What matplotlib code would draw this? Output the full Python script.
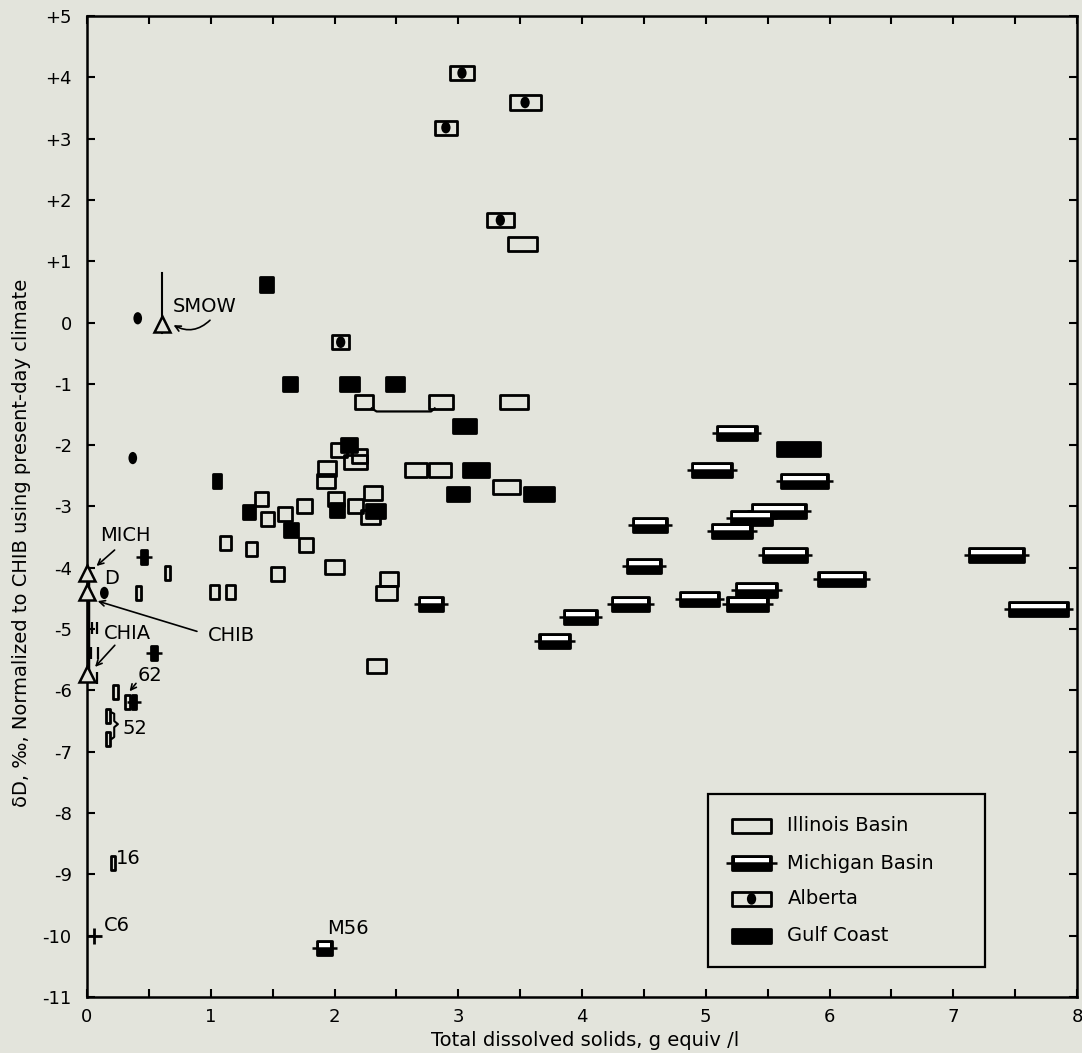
import matplotlib
matplotlib.use("Agg")
import matplotlib.pyplot as plt
from matplotlib.patches import Rectangle, Ellipse

# box centre x (g equiv/l), box width (range of x), delta D
ill_x = [3.52, 2.24, 2.86, 3.45, 2.66, 2.85, 3.39, 2.44, 2.42, 2.34, 1.03, 1.16,
         1.54, 2.00, 1.12, 1.33, 1.77, 1.41, 1.46, 1.60, 1.76, 2.01, 2.17, 2.31,
         2.29, 1.94, 1.93, 2.04, 2.17, 2.20, 0.65, 0.42, 0.23, 0.33, 0.17, 0.17, 0.21]
ill_w = [0.24, 0.15, 0.19, 0.23, 0.18, 0.18, 0.22, 0.15, 0.17, 0.16, 0.08, 0.08,
         0.11, 0.16, 0.09, 0.09, 0.11, 0.10, 0.10, 0.11, 0.12, 0.13, 0.12, 0.15,
         0.15, 0.14, 0.14, 0.13, 0.18, 0.12, 0.04, 0.04, 0.04, 0.04, 0.03, 0.03, 0.03]
ill_y = [1.28, -1.30, -1.30, -1.30, -2.40, -2.40, -2.68, -4.18, -4.41, -5.60, -4.40, -4.40,
         -4.10, -3.99, -3.60, -3.69, -3.63, -2.88, -3.21, -3.12, -2.99, -2.88, -2.99, -2.78,
         -3.17, -2.38, -2.59, -2.08, -2.28, -2.18, -4.09, -4.41, -6.03, -6.19, -6.42, -6.79, -8.82]

mich_x = [5.25, 5.05, 4.55, 4.50, 2.78, 3.99, 3.78, 4.39, 4.95, 5.34, 5.41, 5.21,
          5.37, 5.59, 5.64, 5.80, 6.10, 7.35, 7.69, 1.92, 0.46, 0.54, 0.38]
mich_w = [0.32, 0.32, 0.28, 0.28, 0.20, 0.27, 0.25, 0.30, 0.32, 0.33, 0.33, 0.32,
          0.33, 0.44, 0.36, 0.38, 0.38, 0.45, 0.48, 0.12, 0.05, 0.05, 0.04]
mich_y = [-1.80, -2.40, -3.30, -3.97, -4.59, -4.80, -5.19, -4.59, -4.51, -4.59, -4.36, -3.40,
          -3.19, -3.07, -3.79, -2.59, -4.18, -3.79, -4.67, -10.20, -3.83, -5.39, -6.19]

alb_x = [3.03, 3.54, 2.90, 3.34, 2.05, 0.41, 0.37, 0.14]
alb_w = [0.20, 0.25, 0.18, 0.22, 0.14, 0.0, 0.0, 0.0]
alb_y = [4.07, 3.59, 3.18, 1.67, -0.32, 0.07, -2.21, -4.41]

gulf_x = [1.45, 1.64, 2.12, 2.49, 3.05, 3.14, 3.00, 3.65, 5.75, 2.12, 1.31, 1.65,
          1.05, 2.02, 2.33]
gulf_w = [0.10, 0.12, 0.15, 0.15, 0.19, 0.21, 0.18, 0.24, 0.35, 0.13, 0.10, 0.11,
          0.07, 0.12, 0.15]
gulf_y = [0.62, -1.00, -1.00, -1.00, -1.68, -2.40, -2.79, -2.79, -2.06, -1.99, -3.09, -3.39,
          -2.58, -3.05, -3.08]

# single very dilute samples near the axis
tiny_x = [0.04, 0.08, 0.03, 0.09, 0.08]
tiny_y = [-4.98, -4.98, -5.39, -5.39, -5.80]
c6 = (0.06, -10.0)

# reference waters
std_names = ["SMOW", "MICH", "CHIB", "CHIA"]
std_x = [0.61, 0.0, 0.0, 0.0]
std_y = [-0.02, -4.09, -4.40, -5.73]

yticks = list(range(-11, 6))
yticklabels = ["-11", "-10", "-9", "-8", "-7", "-6", "-5", "-4", "-3", "-2", "-1",
               "0", "+1", "+2", "+3", "+4", "+5"]
legend_names = ["Illinois Basin", "Michigan Basin", "Alberta", "Gulf Coast"]

BG = "#e3e4dc"
H = 0.23
LW = 2.0


def open_box(ax, x, w, y, z=3):
    ax.add_patch(Rectangle((x - w / 2, y - H / 2), w, H, fc="none", ec="black",
                           lw=LW, joinstyle="round", zorder=z))


def filled_box(ax, x, w, y, z=3):
    ax.add_patch(Rectangle((x - w / 2, y - H / 2), w, H, fc="black", ec="black",
                           lw=LW, joinstyle="round", zorder=z))


def mich_box(ax, x, w, y, ext=0.04, z=4):
    ax.add_patch(Rectangle((x - w / 2, y - H / 2), w, H, fc="black", ec="black",
                           lw=LW, joinstyle="round", zorder=z))
    if w > 0.07:
        ax.add_patch(Rectangle((x - w / 2 + 0.018, y - 0.005), w - 0.036, H / 2 - 0.028,
                               fc="white", ec="none", zorder=z + 0.5))
    ax.plot([x - w / 2 - ext, x + w / 2 + ext], [y, y], color="black", lw=1.8,
            solid_capstyle="butt", zorder=z + 1)


def alberta_box(ax, x, w, y, z=3):
    if w > 0:
        ax.add_patch(Rectangle((x - w / 2, y - H / 2), w, H, fc="none", ec="black",
                               lw=LW, joinstyle="round", zorder=z))
        ax.add_patch(Ellipse((x, y), 0.075, 0.19, fc="black", ec="none", zorder=z + 1))
    else:
        ax.add_patch(Ellipse((x, y), 0.07, 0.2, fc="black", ec="none", zorder=z + 1))


plt.rcParams["font.family"] = ["DejaVu Sans"]

fig = plt.figure(figsize=(10.82, 10.53), dpi=100, facecolor=BG)
ax = fig.add_axes([0.0804, 0.0532, 0.915, 0.9316], facecolor=BG)

for x, w, y in zip(ill_x, ill_w, ill_y):
    open_box(ax, x, w, y)
for x, w, y in zip(gulf_x, gulf_w, gulf_y):
    filled_box(ax, x, w, y)
for x, w, y in zip(alb_x, alb_w, alb_y):
    alberta_box(ax, x, w, y)
for x, w, y in zip(mich_x, mich_w, mich_y):
    mich_box(ax, x, w, y)

ax.plot(tiny_x, tiny_y, ls="none", marker="|", ms=9, mew=1.6, color="black")
ax.plot(*c6, marker="+", ms=11, mew=2, color="black")

# bracket joining the two duplicate Illinois analyses near -1.3
ax.plot([2.30, 2.34, 2.78, 2.81], [-1.40, -1.45, -1.45, -1.40], color="black", lw=1.6)
# bracket for sample 52
ax.plot([0.20, 0.22, 0.22, 0.25, 0.22, 0.22, 0.20],
        [-6.36, -6.38, -6.5, -6.55, -6.6, -6.76, -6.79], color="black", lw=1.5)

# standards
ax.plot([0.61, 0.61], [0.81, -0.17], color="black", lw=1.5)
ax.plot([0.005, 0.005], [-4.09, -5.73], color="black", lw=2.5, clip_on=False)
ax.plot(std_x, std_y, ls="none", marker="^", ms=12, mfc=BG, mec="black", mew=1.8,
        clip_on=False, zorder=6)

fs = 14
ax.text(0.69, 0.26, std_names[0], fontsize=fs, va="center", ha="left")
ax.annotate("", xy=(0.68, -0.02), xytext=(1.01, 0.07),
            arrowprops=dict(arrowstyle="->", lw=1.2, connectionstyle="arc3,rad=-0.4"))
ax.text(0.31, -3.48, std_names[1], fontsize=fs, va="center", ha="center")
ax.annotate("", xy=(0.06, -4.0), xytext=(0.24, -3.68),
            arrowprops=dict(arrowstyle="->", lw=1.2))
ax.text(1.17, -5.10, std_names[2], fontsize=fs, va="center", ha="center")
ax.annotate("", xy=(0.065, -4.53), xytext=(0.91, -5.05),
            arrowprops=dict(arrowstyle="->", lw=1.2))
ax.text(0.33, -5.07, std_names[3], fontsize=fs, va="center", ha="center")
ax.annotate("", xy=(0.05, -5.65), xytext=(0.24, -5.23),
            arrowprops=dict(arrowstyle="->", lw=1.2))

ax.text(0.20, -4.18, "D", fontsize=fs, va="center", ha="center")
ax.text(0.51, -5.75, "62", fontsize=fs, va="center", ha="center")
ax.annotate("", xy=(0.33, -6.05), xytext=(0.41, -5.85),
            arrowprops=dict(arrowstyle="->", lw=1.2))
ax.text(0.39, -6.62, "52", fontsize=fs, va="center", ha="center")
ax.text(0.33, -8.74, "16", fontsize=fs, va="center", ha="center")
ax.text(0.24, -9.83, "C6", fontsize=fs, va="center", ha="center")
ax.text(2.11, -9.88, "M56", fontsize=fs, va="center", ha="center")

# legend drawn with the same symbols
ax.add_patch(Rectangle((5.02, -10.51), 2.24, 2.82, fc=BG, ec="black", lw=1.6, zorder=10))
leg_y = [-8.21, -8.82, -9.40, -10.0]
leg_draw = [open_box, mich_box, alberta_box, filled_box]
for name, yy, fn in zip(legend_names, leg_y, leg_draw):
    if fn is mich_box:
        fn(ax, 5.37, 0.31, yy, ext=0.05, z=11)
    else:
        fn(ax, 5.37, 0.31, yy, z=11)
    ax.text(5.66, yy, name, fontsize=fs, va="center", ha="left", zorder=12)

ax.set_xlim(0, 8)
ax.set_ylim(-11, 5)
ax.set_xticks(range(0, 9))
ax.set_xticks([i + 0.5 for i in range(8)], minor=True)
ax.set_yticks(yticks)
ax.set_yticklabels(yticklabels)
ax.tick_params(which="both", direction="in", top=True, right=True, width=1.5,
               length=6, labelsize=13)
ax.tick_params(axis="x", pad=8)
ax.tick_params(axis="y", pad=11)
for s in ax.spines.values():
    s.set_linewidth(1.8)

ax.text(0.503, -0.044, "Total dissolved solids, g equiv /l", transform=ax.transAxes,
        fontsize=14, ha="center", va="center")
ax.text(-0.066, 0.463, "δD, ‰, Normalized to CHIB using present-day climate",
        transform=ax.transAxes, fontsize=14, rotation=90, ha="center", va="center")

fig.savefig("out.png", dpi=100, facecolor=BG)
